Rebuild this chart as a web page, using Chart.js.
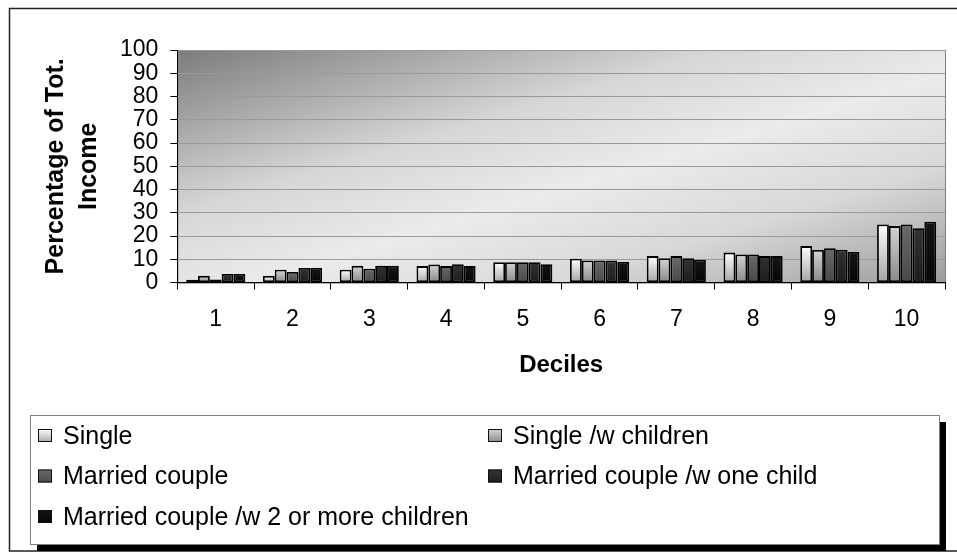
<!DOCTYPE html>
<html>
<head>
<meta charset="utf-8">
<title>Percentage of Total Income by Decile</title>
<script src="https://cdn.jsdelivr.net/npm/chart.js@4.4.1/dist/chart.umd.min.js"></script>
<style>
  html, body { margin: 0; padding: 0; background: #fff; }
  #incomeChart { display: block; }
</style>
</head>
<body>
<canvas id="incomeChart" width="957" height="554"></canvas>
<script>
// Share of total income held by each decile, per household type
const deciles = ['1', '2', '3', '4', '5', '6', '7', '8', '9', '10'];

const single             = [1.2, 2.9, 5.5, 7.1, 8.8, 10.3, 11.4, 12.9, 15.7, 25.0];
const singleWithChildren = [2.9, 5.5, 7.2, 7.8, 8.8, 9.5, 10.5, 12.1, 14.0, 24.3];
const marriedCouple      = [1.3, 4.6, 6.0, 7.1, 8.8, 9.5, 11.4, 12.1, 14.8, 25.0];
const marriedOneChild    = [3.7, 6.3, 7.2, 7.9, 8.8, 9.5, 10.5, 11.4, 14.1, 23.4];
const marriedTwoPlus     = [3.7, 6.3, 7.2, 7.1, 7.9, 8.9, 9.8, 11.4, 13.2, 26.2];

const seriesNames = [
  'Single',
  'Single /w children',
  'Married couple',
  'Married couple /w one child',
  'Married couple /w 2 or more children'
];

// top / bottom shade of each bar
const shades = [
  ['#ffffff', '#a4a4a4'],
  ['#d4d4d4', '#888888'],
  ['#6a6a6a', '#484848'],
  ['#333333', '#1c1c1c'],
  ['#151515', '#050505']
];

const FONT = '"Liberation Sans", Arial, sans-serif';

function barFill(top, bottom) {
  return (ctx) => {
    const chart = ctx.chart;
    const y = chart.scales.y;
    if (!y || ctx.raw === undefined) return bottom;
    const y0 = y.getPixelForValue(0);
    const y1 = y.getPixelForValue(ctx.raw);
    if (!isFinite(y0) || !isFinite(y1) || y0 === y1) return bottom;
    const g = chart.ctx.createLinearGradient(0, y1, 0, y0);
    g.addColorStop(0, top);
    g.addColorStop(1, bottom);
    return g;
  };
}

// outer frame + shaded plot area
const frame = {
  id: 'frame',
  beforeDraw(chart) {
    const c = chart.ctx;
    const a = chart.chartArea;
    c.save();
    c.fillStyle = '#fff';
    c.fillRect(0, 0, chart.width, chart.height);
    c.strokeStyle = '#222';
    c.lineWidth = 1.5;
    c.strokeRect(9.5, 8.5, 1000, 542.5);

    // diagonal shading: dark top-left, light middle, grey bottom-right
    const cx = (a.left + a.right) / 2, cy = (a.top + a.bottom) / 2;
    const dx = a.bottom - a.top, dy = a.right - a.left;
    const len = Math.hypot(dx, dy);
    const ux = dx / len, uy = dy / len;
    const half = Math.abs((a.left - cx) * ux + (a.top - cy) * uy);
    const g = c.createLinearGradient(cx - ux * half, cy - uy * half, cx + ux * half, cy + uy * half);
    g.addColorStop(0, '#7c7c7c');
    g.addColorStop(0.35, '#d6d6d6');
    g.addColorStop(0.55, '#ebebeb');
    g.addColorStop(0.75, '#d8d8d8');
    g.addColorStop(1, '#9c9c9c');
    c.fillStyle = g;
    c.fillRect(a.left, a.top, a.right - a.left, a.bottom - a.top);
    c.strokeStyle = '#808080';
    c.lineWidth = 1;
    c.strokeRect(a.left + 0.5, a.top + 0.5, a.right - a.left, a.bottom - a.top);
    c.restore();
  }
};

// boxed legend in two columns below the axis
const legendBox = {
  id: 'legendBox',
  afterDraw(chart) {
    const c = chart.ctx;
    const x = 30, y = 415, w = 909, h = 129;
    c.save();
    c.fillStyle = '#000';
    c.fillRect(x + 7, y + 7, w, h);
    c.fillStyle = '#fff';
    c.fillRect(x, y, w, h);
    c.strokeStyle = '#808080';
    c.lineWidth = 1;
    c.strokeRect(x + 0.5, y + 0.5, w, h);

    c.font = '25px ' + FONT;
    c.textBaseline = 'middle';
    c.textAlign = 'left';
    chart.data.datasets.forEach((ds, i) => {
      const col = i % 2, row = Math.floor(i / 2);
      const mx = col === 0 ? 38 : 488;
      const my = 436 + row * 40.5;
      const g = c.createLinearGradient(0, my - 7, 0, my + 7);
      g.addColorStop(0, shades[i][0]);
      g.addColorStop(1, shades[i][1]);
      c.fillStyle = g;
      c.fillRect(mx, my - 7, 14, 13);
      c.strokeStyle = '#111';
      c.strokeRect(mx + 0.5, my - 6.5, 13, 12);
      c.fillStyle = '#000';
      c.fillText(ds.label, mx + 25, my + 1);
    });
    c.restore();
  }
};

const series = [single, singleWithChildren, marriedCouple, marriedOneChild, marriedTwoPlus];

new Chart(document.getElementById('incomeChart'), {
  type: 'bar',
  data: {
    labels: deciles,
    datasets: series.map((values, i) => ({
      label: seriesNames[i],
      data: values,
      backgroundColor: barFill(shades[i][0], shades[i][1]),
      borderColor: '#000',
      borderWidth: 1.8,
      borderSkipped: false,
      categoryPercentage: 0.77,
      barPercentage: 1.0
    }))
  },
  options: {
    responsive: false,
    animation: false,
    devicePixelRatio: 1,
    layout: { padding: { top: 50, right: 12, bottom: 174, left: 40 } },
    plugins: {
      legend: { display: false },
      tooltip: { enabled: false }
    },
    scales: {
      x: {
        grid: { drawOnChartArea: false, tickLength: 7, tickColor: '#000', offset: true },
        border: { color: '#000', width: 1 },
        ticks: { color: '#000', padding: 16, font: { family: FONT, size: 23 } },
        title: {
          display: true,
          text: 'Deciles',
          color: '#000',
          padding: { top: 2, bottom: 0 },
          font: { family: FONT, size: 24, weight: 'bold' }
        }
      },
      y: {
        min: 0,
        max: 100,
        grid: { color: '#9a9a9a', tickLength: 7, tickColor: '#000' },
        border: { color: '#000', width: 1 },
        ticks: {
          stepSize: 10,
          autoSkip: false,
          color: '#000',
          padding: 12,
          font: { family: FONT, size: 23, lineHeight: 1 }
        },
        title: {
          display: true,
          text: ['Percentage of Tot.', 'Income'],
          color: '#000',
          padding: { top: 0, bottom: 2 },
          font: { family: FONT, size: 25, weight: 'bold', lineHeight: 1.32 }
        }
      }
    }
  },
  plugins: [frame, legendBox]
});
</script>
</body>
</html>
